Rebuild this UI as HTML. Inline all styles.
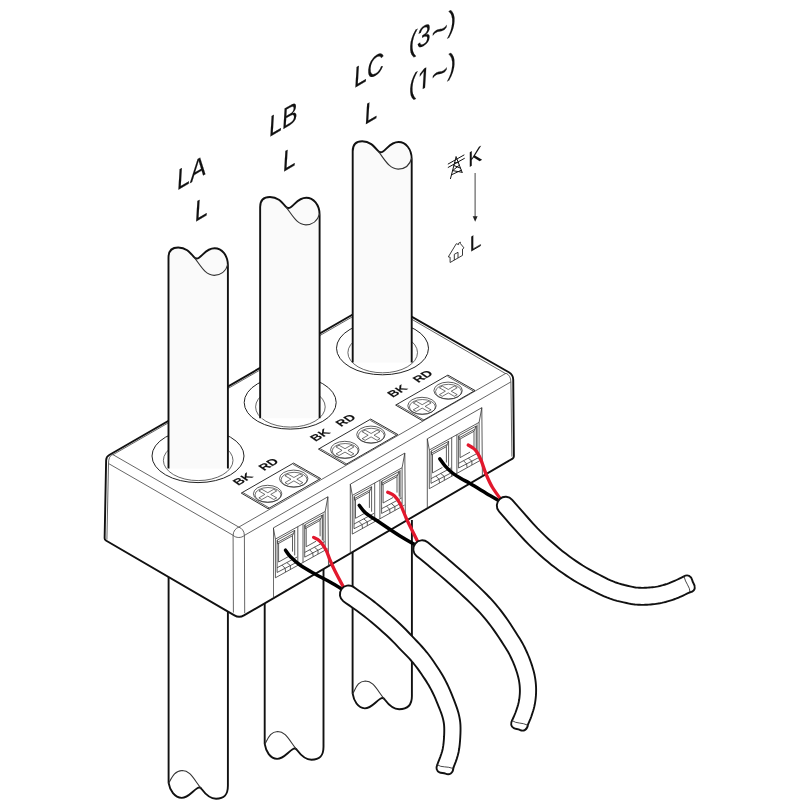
<!DOCTYPE html>
<html><head><meta charset="utf-8"><title>3-phase CT wiring</title>
<style>
html,body{margin:0;padding:0;background:#fff;}
body{width:800px;height:800px;overflow:hidden;font-family:"Liberation Sans",sans-serif;}
svg{display:block;}
svg text{font-family:"Liberation Sans",sans-serif;}
</style></head><body>
<svg width="800" height="800" viewBox="0 0 800 800">
<rect width="800" height="800" fill="#fff"/>
<g id="lower">
<path d="M168.6,560 L168.6,782.9 C169.8,790.4 174.7,797.5 181.7,797.9 C188.2,797.9 192.1,791.3 197.6,788 C199.1,787 200.5,787.3 201.8,789.3 C205.6,794.5 209.6,798.7 216.1,798.7 C223.6,798.7 227.9,795.8 227.9,785.8 L227.9,560" fill="#fff" stroke="#111" stroke-width="1.9" stroke-linejoin="round"/>
<path d="M168.6,783.4 C172.2,776.9 174.7,770.8 182.2,770.5 C190.2,770.5 193.6,779 201,788.3" fill="none" stroke="#333" stroke-width="1.1"/>
<path d="M264.7,560 L264.7,743.9 C265.9,751.4 270.1,758.5 277.1,758.9 C283.6,758.9 287.5,752.3 293,749 C294.5,748 295.9,748.3 297.2,750.3 C301,755.5 305,759.7 311.5,759.7 C319,759.7 323.5,756.8 323.5,746.8 L323.5,560" fill="#fff" stroke="#111" stroke-width="1.9" stroke-linejoin="round"/>
<path d="M264.7,744.4 C268.3,737.9 270.1,731.8 277.6,731.5 C285.6,731.5 289,740 296.4,749.3" fill="none" stroke="#333" stroke-width="1.1"/>
<path d="M352.6,520 L352.6,693.4 C353.8,700.9 357.8,708 364.8,708.4 C371.3,708.4 375.2,701.8 380.7,698.5 C382.2,697.5 383.6,697.8 384.9,699.8 C388.7,705 392.7,709.2 399.2,709.2 C406.7,709.2 411.9,706.3 411.9,696.3 L411.9,520" fill="#fff" stroke="#111" stroke-width="1.9" stroke-linejoin="round"/>
<path d="M352.6,693.9 C356.2,687.4 357.8,681.3 365.3,681 C373.3,681 376.7,689.5 384.1,698.8" fill="none" stroke="#333" stroke-width="1.1"/>
</g>
<path d="M106.13,460.2 Q106.2,456.7 109.23,454.95 L377.5,300.2 Q380.1,298.7 382.71,300.19 L508.86,372.22 Q513.2,374.7 513.24,379.7 L513.89,456.3 Q513.9,457.8 512.6,458.56 L243.95,615.43 Q239.2,618.2 234.45,615.43 L105.9,540.55 Q104.6,539.8 104.63,538.3 Z" fill="#fff" stroke="#111" stroke-width="1.9" stroke-linejoin="round"/>
<path d="M112.5,454.4 L238.8,527.1 L506,373.25 M108.5,463.5 L233.1,535.3 M244.4,535.4 L510.9,381.9 M108.5,463.5 L106.9,539.6 M510.9,381.9 L511.9,456.6 M233.1,535.3 L233.4,612.6 M244.4,535.4 L244.7,613.2 M233.1,535.3 C233.2,531 235.8,528.2 238.8,527.1 C241.8,528.2 244.3,531 244.4,535.4 M233.1,535.3 C236,538.2 241.5,538.2 244.4,535.4 M112.5,454.4 C110,455.5 108.5,458.5 108.5,463.5 M506,373.25 C509,374.5 510.9,377.5 510.9,381.9 M112.5,455.0 L380,300.9 L505.6,373.6" fill="none" stroke="#333" stroke-width="0.75"/>
<ellipse cx="198" cy="456" rx="46" ry="26.6" fill="#fff" stroke="#222" stroke-width="1"/>
<ellipse cx="198.2" cy="460.4" rx="34.8" ry="20.2" fill="#fff" stroke="#333" stroke-width="0.75"/>
<ellipse cx="290.2" cy="402.5" rx="46" ry="26.6" fill="#fff" stroke="#222" stroke-width="1"/>
<ellipse cx="290.4" cy="406.9" rx="34.8" ry="20.2" fill="#fff" stroke="#333" stroke-width="0.75"/>
<ellipse cx="382.5" cy="348.2" rx="46" ry="26.6" fill="#fff" stroke="#222" stroke-width="1"/>
<ellipse cx="382.7" cy="352.6" rx="34.8" ry="20.2" fill="#fff" stroke="#333" stroke-width="0.75"/>
<path d="M168.5,468.5 L168.5,257.5 C168.5,250.5 172.7,247.5 178.2,247.5 C185.7,247.5 189.5,251.9 193.8,256.9 C195.1,258.4 196.4,259.5 199,257.7 C203.5,254.7 206.6,248.2 214.6,248.2 C221.6,248.2 227.9,255.2 227.9,265.2 L227.9,468.5Z" fill="#fafafa" stroke="none"/>
<path d="M168.5,468.5 L168.5,257.5 C168.5,250.5 172.7,247.5 178.2,247.5 C185.7,247.5 189.5,251.9 193.8,256.9 C195.1,258.4 196.4,259.5 199,257.7 C203.5,254.7 206.6,248.2 214.6,248.2 C221.6,248.2 227.9,255.2 227.9,265.2 L227.9,468.5" fill="none" stroke="#111" stroke-width="1.9" stroke-linejoin="round"/>
<path d="M194.4,257.6 C200.5,265.4 205.2,275.3 214.2,275.3 C220.2,275.3 225.9,271.7 227.9,264.2" fill="none" stroke="#333" stroke-width="1.15"/>
<path d="M260.15,418.3 L260.15,207 C260.15,200 264.4,197 269.9,197 C277.4,197 281.2,201.4 285.5,206.4 C286.8,207.9 288.1,209 290.7,207.2 C295.2,204.2 298.3,197.7 306.3,197.7 C313.3,197.7 319.6,204.7 319.6,214.7 L319.6,418.3Z" fill="#fafafa" stroke="none"/>
<path d="M260.15,418.3 L260.15,207 C260.15,200 264.4,197 269.9,197 C277.4,197 281.2,201.4 285.5,206.4 C286.8,207.9 288.1,209 290.7,207.2 C295.2,204.2 298.3,197.7 306.3,197.7 C313.3,197.7 319.6,204.7 319.6,214.7 L319.6,418.3" fill="none" stroke="#111" stroke-width="1.9" stroke-linejoin="round"/>
<path d="M286.1,207.1 C292.2,214.9 296.9,224.8 305.9,224.8 C311.9,224.8 317.6,221.2 319.6,213.7" fill="none" stroke="#333" stroke-width="1.15"/>
<path d="M352.7,362.6 L352.7,151.3 C352.7,144.3 356.7,141.3 362.2,141.3 C369.7,141.3 373.5,145.7 377.8,150.7 C379.1,152.2 380.4,153.3 383,151.5 C387.5,148.5 390.6,142 398.6,142 C405.6,142 411.7,149 411.7,159 L411.7,362.6Z" fill="#fafafa" stroke="none"/>
<path d="M352.7,362.6 L352.7,151.3 C352.7,144.3 356.7,141.3 362.2,141.3 C369.7,141.3 373.5,145.7 377.8,150.7 C379.1,152.2 380.4,153.3 383,151.5 C387.5,148.5 390.6,142 398.6,142 C405.6,142 411.7,149 411.7,159 L411.7,362.6" fill="none" stroke="#111" stroke-width="1.9" stroke-linejoin="round"/>
<path d="M378.4,151.4 C384.5,159.2 389.2,169.1 398.2,169.1 C404.2,169.1 409.7,165.5 411.7,158" fill="none" stroke="#333" stroke-width="1.15"/>
<g opacity="0.999">
<polygon points="241.25,493.1 293.5,463.1 320.6,478.5 268.1,508.75" fill="#fff" stroke="#222" stroke-width="0.95"/>
<path d="M242.85,492.55 L269.4,508 M293.1,464.35 L319.3,479.25" fill="none" stroke="#333" stroke-width="0.8"/>
<ellipse cx="267.6" cy="493.8" rx="14.2" ry="8.5" fill="#fff" stroke="#333" stroke-width="0.8"/>
<ellipse cx="268" cy="494.9" rx="13" ry="7.4" fill="none" stroke="#333" stroke-width="0.7"/>
<polygon points="258.88,497.85 264.86,494.4 258.88,490.95 261.82,489.25 267.8,492.7 273.78,489.25 276.72,490.95 270.74,494.4 276.72,497.85 273.78,499.55 267.8,496.1 261.82,499.55" fill="none" stroke="#333" stroke-width="0.7"/>
<ellipse cx="293.7" cy="478.6" rx="14.2" ry="8.5" fill="#fff" stroke="#333" stroke-width="0.8"/>
<ellipse cx="294.1" cy="479.7" rx="13" ry="7.4" fill="none" stroke="#333" stroke-width="0.7"/>
<polygon points="284.98,482.65 290.96,479.2 284.98,475.75 287.92,474.05 293.9,477.5 299.88,474.05 302.82,475.75 296.84,479.2 302.82,482.65 299.88,484.35 293.9,480.9 287.92,484.35" fill="none" stroke="#333" stroke-width="0.7"/>
<text transform="matrix(0.935,-0.54,0.82,0.56,238.3,485.8)" font-size="11.6" font-weight="bold" fill="#111" stroke="#111" stroke-width="0.12">BK</text>
<text transform="matrix(0.935,-0.54,0.82,0.56,263.9,470.9)" font-size="11.6" font-weight="bold" fill="#111" stroke="#111" stroke-width="0.12">RD</text>
<polygon points="318.45,449.1 370.7,419.1 397.8,434.5 345.3,464.75" fill="#fff" stroke="#222" stroke-width="0.95"/>
<path d="M320.05,448.55 L346.6,464 M370.3,420.35 L396.5,435.25" fill="none" stroke="#333" stroke-width="0.8"/>
<ellipse cx="344.8" cy="449.8" rx="14.2" ry="8.5" fill="#fff" stroke="#333" stroke-width="0.8"/>
<ellipse cx="345.2" cy="450.9" rx="13" ry="7.4" fill="none" stroke="#333" stroke-width="0.7"/>
<polygon points="336.08,453.85 342.06,450.4 336.08,446.95 339.02,445.25 345,448.7 350.98,445.25 353.92,446.95 347.94,450.4 353.92,453.85 350.98,455.55 345,452.1 339.02,455.55" fill="none" stroke="#333" stroke-width="0.7"/>
<ellipse cx="370.9" cy="434.6" rx="14.2" ry="8.5" fill="#fff" stroke="#333" stroke-width="0.8"/>
<ellipse cx="371.3" cy="435.7" rx="13" ry="7.4" fill="none" stroke="#333" stroke-width="0.7"/>
<polygon points="362.18,438.65 368.16,435.2 362.18,431.75 365.12,430.05 371.1,433.5 377.08,430.05 380.02,431.75 374.04,435.2 380.02,438.65 377.08,440.35 371.1,436.9 365.12,440.35" fill="none" stroke="#333" stroke-width="0.7"/>
<text transform="matrix(0.935,-0.54,0.82,0.56,315.5,441.8)" font-size="11.6" font-weight="bold" fill="#111" stroke="#111" stroke-width="0.12">BK</text>
<text transform="matrix(0.935,-0.54,0.82,0.56,341.1,426.9)" font-size="11.6" font-weight="bold" fill="#111" stroke="#111" stroke-width="0.12">RD</text>
<polygon points="395.65,405.1 447.9,375.1 475,390.5 422.5,420.75" fill="#fff" stroke="#222" stroke-width="0.95"/>
<path d="M397.25,404.55 L423.8,420 M447.5,376.35 L473.7,391.25" fill="none" stroke="#333" stroke-width="0.8"/>
<ellipse cx="422" cy="405.8" rx="14.2" ry="8.5" fill="#fff" stroke="#333" stroke-width="0.8"/>
<ellipse cx="422.4" cy="406.9" rx="13" ry="7.4" fill="none" stroke="#333" stroke-width="0.7"/>
<polygon points="413.28,409.85 419.26,406.4 413.28,402.95 416.22,401.25 422.2,404.7 428.18,401.25 431.12,402.95 425.14,406.4 431.12,409.85 428.18,411.55 422.2,408.1 416.22,411.55" fill="none" stroke="#333" stroke-width="0.7"/>
<ellipse cx="448.1" cy="390.6" rx="14.2" ry="8.5" fill="#fff" stroke="#333" stroke-width="0.8"/>
<ellipse cx="448.5" cy="391.7" rx="13" ry="7.4" fill="none" stroke="#333" stroke-width="0.7"/>
<polygon points="439.38,394.65 445.36,391.2 439.38,387.75 442.32,386.05 448.3,389.5 454.28,386.05 457.22,387.75 451.24,391.2 457.22,394.65 454.28,396.35 448.3,392.9 442.32,396.35" fill="none" stroke="#333" stroke-width="0.7"/>
<text transform="matrix(0.935,-0.54,0.82,0.56,392.7,397.8)" font-size="11.6" font-weight="bold" fill="#111" stroke="#111" stroke-width="0.12">BK</text>
<text transform="matrix(0.935,-0.54,0.82,0.56,418.3,382.9)" font-size="11.6" font-weight="bold" fill="#111" stroke="#111" stroke-width="0.12">RD</text>
</g>
<path d="M273.4,598.19 L273.4,527.9 L327.9,496.78 L328.5,566.02 M273.4,527.9 L275.4,539.1 L275.4,577.8 M327.9,496.78 L325.2,511.46 L325.2,548.46 M275.4,539.1 L325.2,511.46 M275.4,577.8 L327.7,548.77 M297.8,526.67 L297.8,565.37 M277.1,572.46 L277.1,540.16 L294.7,530.39 M294.7,530.39 L294.7,555.39 M277.1,572.46 L297.4,561.89 M277.5,540.33 L277.7,543.92 L292.5,535.71 L294.7,530.39 M277.9,542.11 L293.1,533.68 M278.6,543.42 L278.6,562.02 L288.5,556.53 M292.5,535.71 L292.5,551.61 M277.1,567.76 L297.2,557 M282.1,565.18 L285.1,568.32 L285.6,572.04 M286.9,562.62 L290.4,565.57 L290.4,569.38 M303,523.78 L303,562.48 M304.7,557.14 L304.7,524.84 L322.3,515.07 M322.3,515.07 L322.3,540.07 M304.7,557.14 L325,546.57 M305.1,525.02 L305.3,528.61 L320.1,520.39 L322.3,515.07 M305.5,526.79 L320.7,518.36 M306.2,528.11 L306.2,546.71 L316.1,541.21 M320.1,520.39 L320.1,536.29 M304.7,552.44 L324.8,541.68 M309.7,549.86 L312.7,553 L313.2,556.72 M314.5,547.3 L318,550.26 L318,554.06 M323.2,513.57 L323.2,541.57" fill="none" stroke="#333" stroke-width="0.8" stroke-linejoin="round"/>
<path d="M350.3,553.28 L350.3,484.2 L404.8,453.08 L405.4,521.11 M350.3,484.2 L352.3,495.4 L352.3,534.1 M404.8,453.08 L402.1,467.76 L402.1,504.76 M352.3,495.4 L402.1,467.76 M352.3,534.1 L404.6,505.07 M374.7,482.97 L374.7,521.67 M354,528.76 L354,496.46 L371.6,486.69 M371.6,486.69 L371.6,511.69 M354,528.76 L374.3,518.19 M354.4,496.63 L354.6,500.22 L369.4,492.01 L371.6,486.69 M354.8,498.41 L370,489.98 M355.5,499.72 L355.5,518.32 L365.4,512.83 M369.4,492.01 L369.4,507.91 M354,524.06 L374.1,513.3 M359,521.48 L362,524.62 L362.5,528.34 M363.8,518.92 L367.3,521.88 L367.3,525.67 M379.9,480.08 L379.9,518.78 M381.6,513.44 L381.6,481.14 L399.2,471.37 M399.2,471.37 L399.2,496.37 M381.6,513.44 L401.9,502.87 M382,481.32 L382.2,484.91 L397,476.69 L399.2,471.37 M382.4,483.09 L397.6,474.66 M383.1,484.41 L383.1,503.01 L393,497.51 M397,476.69 L397,492.59 M381.6,508.74 L401.7,497.98 M386.6,506.16 L389.6,509.3 L390.1,513.02 M391.4,503.6 L394.9,506.56 L394.9,510.36 M400.1,469.87 L400.1,497.87" fill="none" stroke="#333" stroke-width="0.8" stroke-linejoin="round"/>
<path d="M427.3,508.32 L427.3,438.8 L481.8,407.68 L482.4,476.14 M427.3,438.8 L429.3,450 L429.3,488.7 M481.8,407.68 L479.1,422.36 L479.1,459.36 M429.3,450 L479.1,422.36 M429.3,488.7 L481.6,459.67 M451.7,437.57 L451.7,476.27 M431,483.36 L431,451.06 L448.6,441.29 M448.6,441.29 L448.6,466.29 M431,483.36 L451.3,472.79 M431.4,451.23 L431.6,454.82 L446.4,446.61 L448.6,441.29 M431.8,453.01 L447,444.58 M432.5,454.32 L432.5,472.92 L442.4,467.43 M446.4,446.61 L446.4,462.51 M431,478.66 L451.1,467.9 M436,476.08 L439,479.22 L439.5,482.94 M440.8,473.52 L444.3,476.48 L444.3,480.28 M456.9,434.68 L456.9,473.38 M458.6,468.04 L458.6,435.74 L476.2,425.97 M476.2,425.97 L476.2,450.97 M458.6,468.04 L478.9,457.47 M459,435.92 L459.2,439.51 L474,431.29 L476.2,425.97 M459.4,437.69 L474.6,429.26 M460.1,439.01 L460.1,457.61 L470,452.11 M474,431.29 L474,447.19 M458.6,463.34 L478.7,452.58 M463.6,460.76 L466.6,463.9 L467.1,467.62 M468.4,458.2 L471.9,461.16 L471.9,464.96 M477.1,424.47 L477.1,452.47" fill="none" stroke="#333" stroke-width="0.8" stroke-linejoin="round"/>
<path d="M285.5,550.2 C286.25,551.2 287.58,553.73 290,556.2 C292.42,558.67 295.83,562.03 300,565 C304.17,567.97 310,571.17 315,574 C320,576.83 325,579.17 330,582 C335,584.83 342.5,589.5 345,591" fill="none" stroke="#000" stroke-width="3.5" stroke-linecap="round"/>
<path d="M313.6,537.4 C314.67,538.05 317.93,539.2 320,541.3 C322.07,543.4 324.33,546.88 326,550 C327.67,553.12 328.5,556.5 330,560 C331.5,563.5 332.33,565.67 335,571 C337.67,576.33 344.17,588.5 346,592" fill="none" stroke="#e2182d" stroke-width="3.3" stroke-linecap="round"/>
<path d="M359.2,505.25 C360.25,506.51 362.45,510.17 365.5,512.8 C368.55,515.42 371.75,517.13 377.5,521 C383.25,524.87 393.08,531.67 400,536 C406.92,540.33 415.83,545.17 419,547" fill="none" stroke="#000" stroke-width="3.5" stroke-linecap="round"/>
<path d="M387.7,492.2 C388.83,492.83 392.45,494.12 394.5,496 C396.55,497.88 397.83,499.33 400,503.5 C402.17,507.67 404.08,513.75 407.5,521 C410.92,528.25 418.33,542.67 420.5,547" fill="none" stroke="#e2182d" stroke-width="3.3" stroke-linecap="round"/>
<path d="M439.75,458.8 C440.62,459.97 442.88,463.43 445,465.8 C447.12,468.17 449.83,470.87 452.5,473 C455.17,475.13 458,476.8 461,478.6 C464,480.4 465.67,480.98 470.5,483.8 C475.33,486.62 484.58,492.3 490,495.5 C495.42,498.7 500.83,501.75 503,503" fill="none" stroke="#000" stroke-width="3.5" stroke-linecap="round"/>
<path d="M468.2,445 C468.92,445.43 471.12,446.52 472.5,447.6 C473.88,448.68 475.08,449.43 476.5,451.5 C477.92,453.57 479.42,456.25 481,460 C482.58,463.75 484.08,469.42 486,474 C487.92,478.58 489.58,482.67 492.5,487.5 C495.42,492.33 501.67,500.42 503.5,503" fill="none" stroke="#e2182d" stroke-width="3.3" stroke-linecap="round"/>
<path d="M353.45,586.9 L355.72,588.49 L358.88,590.67 L362.67,593.31 L366.81,596.24 L371.02,599.32 L375.03,602.37 L378.91,605.49 L382.9,608.81 L386.9,612.21 L390.78,615.59 L394.43,618.82 L397.74,621.81 L400.64,624.5 L403.19,626.97 L405.5,629.28 L407.67,631.52 L409.8,633.76 L412.05,636.11 L414.44,638.62 L416.94,641.24 L419.49,643.95 L422.06,646.75 L424.58,649.61 L427.01,652.53 L429.32,655.5 L431.54,658.51 L433.64,661.51 L435.62,664.43 L437.46,667.23 L439.15,669.86 L440.7,672.3 L442.1,674.6 L443.4,676.82 L444.63,679.05 L445.84,681.33 L447.05,683.76 L448.3,686.38 L449.53,689.12 L450.72,691.89 L451.86,694.66 L452.94,697.37 L453.94,699.96 L454.89,702.42 L455.81,704.87 L456.72,707.36 L457.57,709.9 L458.35,712.5 L459,715.12 L459.52,717.6 L459.93,719.97 L460.24,722.38 L460.44,724.88 L460.53,727.52 L460.53,730.37 L460.45,733.55 L460.29,737.05 L460.05,740.75 L459.71,744.53 L459.25,748.27 L458.64,751.92 L457.76,755.55 L456.66,759.1 L455.61,762.09 L454.62,764.69 L453.84,766.68 L453.34,768 L437.26,764.8 L438.02,762.7 L439.05,760.05 L440.18,757.11 L441.29,754 L442.14,751.24 L442.76,748.68 L443.22,745.96 L443.6,742.82 L443.9,739.5 L444.11,736.18 L444.23,733.03 L444.27,730.23 L444.24,727.89 L444.14,725.91 L443.98,724.17 L443.74,722.5 L443.41,720.76 L443,718.88 L442.49,716.95 L441.87,714.99 L441.15,712.92 L440.32,710.74 L439.41,708.43 L438.46,706.04 L437.47,703.57 L436.42,701.04 L435.32,698.48 L434.2,695.96 L433.07,693.53 L431.95,691.24 L430.85,689.13 L429.79,687.18 L428.72,685.3 L427.58,683.4 L426.31,681.38 L424.85,679.14 L423.2,676.66 L421.42,674.03 L419.55,671.34 L417.61,668.64 L415.61,666 L413.59,663.47 L411.47,661 L409.19,658.47 L406.78,655.92 L404.31,653.36 L401.81,650.81 L399.35,648.29 L397.07,645.91 L394.98,643.71 L392.95,641.62 L390.85,639.51 L388.54,637.28 L385.86,634.79 L382.71,631.95 L379.17,628.82 L375.42,625.55 L371.57,622.28 L367.77,619.12 L364.17,616.23 L360.5,613.43 L356.54,610.53 L352.55,607.71 L348.84,605.13 L345.67,602.93 L343.35,601.3 A8.8,8.8 0 0 1 353.45,586.9 Z" fill="#fff" stroke="none"/>
<path d="M453.34,768 L453.84,766.68 L454.62,764.69 L455.61,762.09 L456.66,759.1 L457.76,755.55 L458.64,751.92 L459.25,748.27 L459.71,744.53 L460.05,740.75 L460.29,737.05 L460.45,733.55 L460.53,730.37 L460.53,727.52 L460.44,724.88 L460.24,722.38 L459.93,719.97 L459.52,717.6 L459,715.12 L458.35,712.5 L457.57,709.9 L456.72,707.36 L455.81,704.87 L454.89,702.42 L453.94,699.96 L452.94,697.37 L451.86,694.66 L450.72,691.89 L449.53,689.12 L448.3,686.38 L447.05,683.76 L445.84,681.33 L444.63,679.05 L443.4,676.82 L442.1,674.6 L440.7,672.3 L439.15,669.86 L437.46,667.23 L435.62,664.43 L433.64,661.51 L431.54,658.51 L429.32,655.5 L427.01,652.53 L424.58,649.61 L422.06,646.75 L419.49,643.95 L416.94,641.24 L414.44,638.62 L412.05,636.11 L409.8,633.76 L407.67,631.52 L405.5,629.28 L403.19,626.97 L400.64,624.5 L397.74,621.81 L394.43,618.82 L390.78,615.59 L386.9,612.21 L382.9,608.81 L378.91,605.49 L375.03,602.37 L371.02,599.32 L366.81,596.24 L362.67,593.31 L358.88,590.67 L355.72,588.49 L353.45,586.9 A8.8,8.8 0 0 0 343.35,601.3 L345.67,602.93 L348.84,605.13 L352.55,607.71 L356.54,610.53 L360.5,613.43 L364.17,616.23 L367.77,619.12 L371.57,622.28 L375.42,625.55 L379.17,628.82 L382.71,631.95 L385.86,634.79 L388.54,637.28 L390.85,639.51 L392.95,641.62 L394.98,643.71 L397.07,645.91 L399.35,648.29 L401.81,650.81 L404.31,653.36 L406.78,655.92 L409.19,658.47 L411.47,661 L413.59,663.47 L415.61,666 L417.61,668.64 L419.55,671.34 L421.42,674.03 L423.2,676.66 L424.85,679.14 L426.31,681.38 L427.58,683.4 L428.72,685.3 L429.79,687.18 L430.85,689.13 L431.95,691.24 L433.07,693.53 L434.2,695.96 L435.32,698.48 L436.42,701.04 L437.47,703.57 L438.46,706.04 L439.41,708.43 L440.32,710.74 L441.15,712.92 L441.87,714.99 L442.49,716.95 L443,718.88 L443.41,720.76 L443.74,722.5 L443.98,724.17 L444.14,725.91 L444.24,727.89 L444.27,730.23 L444.23,733.03 L444.11,736.18 L443.9,739.5 L443.6,742.82 L443.22,745.96 L442.76,748.68 L442.14,751.24 L441.29,754 L440.18,757.11 L439.05,760.05 L438.02,762.7 L437.26,764.8" fill="none" stroke="#111" stroke-width="1.9" stroke-linejoin="round"/>
<path d="M427.68,542.29 L429.56,543.84 L432.14,545.94 L435.22,548.46 L438.62,551.26 L442.15,554.19 L445.59,557.08 L448.99,559.98 L452.55,563.01 L456.24,566.18 L460,569.45 L463.79,572.81 L467.54,576.2 L471.34,579.71 L475.25,583.36 L479.2,587.1 L483.06,590.83 L486.71,594.49 L490.05,597.97 L492.98,601.17 L495.6,604.15 L498,607.02 L500.29,609.9 L502.56,612.88 L504.95,616.12 L507.55,619.79 L510.26,623.8 L512.96,627.91 L515.54,631.92 L517.88,635.64 L519.87,638.86 L521.48,641.54 L522.8,643.84 L523.89,645.88 L524.83,647.76 L525.69,649.57 L526.58,651.5 L527.52,653.59 L528.43,655.74 L529.31,657.9 L530.13,660.06 L530.91,662.22 L531.64,664.37 L532.32,666.51 L532.96,668.66 L533.57,670.84 L534.13,673.06 L534.63,675.31 L535.06,677.58 L535.4,679.83 L535.68,682.08 L535.89,684.32 L536.03,686.57 L536.1,688.82 L536.1,691.07 L536.04,693.34 L535.92,695.61 L535.72,697.88 L535.46,700.12 L535.14,702.34 L534.75,704.55 L534.27,706.78 L533.71,708.97 L533.1,711.06 L532.47,713.05 L531.85,714.92 L531.23,716.72 L530.53,718.6 L529.77,720.48 L529.15,721.93 L528.61,723.17 L528.19,724.1 L527.94,724.66 L512.06,720.54 L512.6,719.29 L513.29,717.75 L514.05,716.05 L514.82,714.25 L515.43,712.74 L515.97,711.28 L516.51,709.72 L517.07,708.05 L517.6,706.37 L518.08,704.69 L518.5,703.06 L518.85,701.45 L519.14,699.78 L519.4,698.03 L519.6,696.25 L519.76,694.46 L519.86,692.68 L519.9,690.93 L519.87,689.18 L519.79,687.43 L519.66,685.68 L519.47,683.92 L519.23,682.17 L518.94,680.42 L518.59,678.69 L518.18,676.94 L517.7,675.16 L517.17,673.34 L516.59,671.49 L515.96,669.63 L515.31,667.77 L514.62,665.92 L513.88,664.06 L513.11,662.21 L512.29,660.37 L511.42,658.5 L510.58,656.74 L509.81,655.17 L509.05,653.69 L508.16,652.08 L507.03,650.16 L505.53,647.74 L503.59,644.69 L501.28,641.12 L498.74,637.28 L496.1,633.38 L493.5,629.65 L491.05,626.28 L488.81,623.31 L486.69,620.61 L484.62,618.08 L482.46,615.56 L480.08,612.92 L477.35,610.03 L474.22,606.83 L470.74,603.4 L467.03,599.81 L463.2,596.19 L459.37,592.61 L455.66,589.2 L452.04,585.92 L448.39,582.68 L444.73,579.49 L441.11,576.39 L437.58,573.38 L434.21,570.52 L430.86,567.69 L427.41,564.83 L424.06,562.07 L421,559.57 L418.42,557.46 L416.52,555.91 A8.8,8.8 0 0 1 427.68,542.29 Z" fill="#fff" stroke="none"/>
<path d="M527.94,724.66 L528.19,724.1 L528.61,723.17 L529.15,721.93 L529.77,720.48 L530.53,718.6 L531.23,716.72 L531.85,714.92 L532.47,713.05 L533.1,711.06 L533.71,708.97 L534.27,706.78 L534.75,704.55 L535.14,702.34 L535.46,700.12 L535.72,697.88 L535.92,695.61 L536.04,693.34 L536.1,691.07 L536.1,688.82 L536.03,686.57 L535.89,684.32 L535.68,682.08 L535.4,679.83 L535.06,677.58 L534.63,675.31 L534.13,673.06 L533.57,670.84 L532.96,668.66 L532.32,666.51 L531.64,664.37 L530.91,662.22 L530.13,660.06 L529.31,657.9 L528.43,655.74 L527.52,653.59 L526.58,651.5 L525.69,649.57 L524.83,647.76 L523.89,645.88 L522.8,643.84 L521.48,641.54 L519.87,638.86 L517.88,635.64 L515.54,631.92 L512.96,627.91 L510.26,623.8 L507.55,619.79 L504.95,616.12 L502.56,612.88 L500.29,609.9 L498,607.02 L495.6,604.15 L492.98,601.17 L490.05,597.97 L486.71,594.49 L483.06,590.83 L479.2,587.1 L475.25,583.36 L471.34,579.71 L467.54,576.2 L463.79,572.81 L460,569.45 L456.24,566.18 L452.55,563.01 L448.99,559.98 L445.59,557.08 L442.15,554.19 L438.62,551.26 L435.22,548.46 L432.14,545.94 L429.56,543.84 L427.68,542.29 A8.8,8.8 0 0 0 416.52,555.91 L418.42,557.46 L421,559.57 L424.06,562.07 L427.41,564.83 L430.86,567.69 L434.21,570.52 L437.58,573.38 L441.11,576.39 L444.73,579.49 L448.39,582.68 L452.04,585.92 L455.66,589.2 L459.37,592.61 L463.2,596.19 L467.03,599.81 L470.74,603.4 L474.22,606.83 L477.35,610.03 L480.08,612.92 L482.46,615.56 L484.62,618.08 L486.69,620.61 L488.81,623.31 L491.05,626.28 L493.5,629.65 L496.1,633.38 L498.74,637.28 L501.28,641.12 L503.59,644.69 L505.53,647.74 L507.03,650.16 L508.16,652.08 L509.05,653.69 L509.81,655.17 L510.58,656.74 L511.42,658.5 L512.29,660.37 L513.11,662.21 L513.88,664.06 L514.62,665.92 L515.31,667.77 L515.96,669.63 L516.59,671.49 L517.17,673.34 L517.7,675.16 L518.18,676.94 L518.59,678.69 L518.94,680.42 L519.23,682.17 L519.47,683.92 L519.66,685.68 L519.79,687.43 L519.87,689.18 L519.9,690.93 L519.86,692.68 L519.76,694.46 L519.6,696.25 L519.4,698.03 L519.14,699.78 L518.85,701.45 L518.5,703.06 L518.08,704.69 L517.6,706.37 L517.07,708.05 L516.51,709.72 L515.97,711.28 L515.43,712.74 L514.82,714.25 L514.05,716.05 L513.29,717.75 L512.6,719.29 L512.06,720.54" fill="none" stroke="#111" stroke-width="1.9" stroke-linejoin="round"/>
<path d="M512.22,499.8 L515.06,503.05 L519.01,507.6 L523.65,512.93 L528.56,518.5 L533.34,523.81 L537.56,528.32 L541.29,532.12 L544.89,535.65 L548.39,538.95 L551.82,542.08 L555.26,545.09 L558.72,548.03 L562.22,550.88 L565.7,553.6 L569.19,556.22 L572.66,558.73 L576.1,561.12 L579.47,563.38 L582.76,565.49 L586.02,567.46 L589.27,569.33 L592.5,571.12 L595.72,572.84 L598.89,574.52 L601.98,576.12 L604.94,577.63 L607.79,579.04 L610.56,580.32 L613.26,581.48 L615.9,582.51 L618.62,583.43 L621.52,584.27 L624.49,585.04 L627.39,585.72 L630.13,586.33 L632.52,586.84 L634.37,587.22 L635.72,587.45 L636.79,587.59 L637.78,587.67 L638.92,587.74 L640.29,587.8 L641.74,587.85 L643.18,587.85 L644.67,587.82 L646.19,587.76 L647.74,587.67 L649.28,587.56 L650.82,587.42 L652.35,587.26 L653.86,587.08 L655.34,586.87 L656.81,586.62 L658.26,586.33 L659.72,586 L661.25,585.61 L662.81,585.19 L664.37,584.73 L665.88,584.25 L667.31,583.79 L668.58,583.35 L669.75,582.91 L670.89,582.46 L672.04,581.98 L673.27,581.45 L674.55,580.89 L675.97,580.24 L677.57,579.49 L679.32,578.65 L680.98,577.83 L682.43,577.13 L683.51,576.6 L690.09,592.2 L689.24,592.61 L688,593.22 L686.48,593.95 L684.83,594.75 L683.07,595.58 L681.45,596.31 L680.02,596.94 L678.65,597.53 L677.26,598.11 L675.82,598.69 L674.3,599.25 L672.69,599.81 L671.01,600.36 L669.26,600.9 L667.44,601.44 L665.56,601.96 L663.66,602.44 L661.74,602.87 L659.86,603.24 L657.99,603.56 L656.14,603.83 L654.32,604.07 L652.51,604.27 L650.72,604.44 L648.91,604.59 L647.08,604.7 L645.23,604.79 L643.37,604.84 L641.51,604.84 L639.71,604.8 L638.12,604.74 L636.61,604.66 L634.99,604.53 L633.23,604.31 L631.27,603.99 L629.08,603.56 L626.54,603.03 L623.64,602.41 L620.43,601.67 L617.03,600.82 L613.54,599.83 L610.1,598.69 L606.79,597.43 L603.58,596.07 L600.41,594.63 L597.26,593.11 L594.1,591.52 L590.91,589.88 L587.63,588.18 L584.25,586.4 L580.77,584.51 L577.21,582.49 L573.59,580.33 L569.93,578.02 L566.27,575.6 L562.57,573.06 L558.82,570.39 L555.04,567.59 L551.25,564.64 L547.48,561.57 L543.76,558.42 L540.1,555.21 L536.41,551.86 L532.68,548.32 L528.84,544.56 L524.84,540.48 L520.36,535.7 L515.42,530.21 L510.41,524.52 L505.73,519.15 L501.79,514.61 L498.98,511.4 A8.8,8.8 0 0 1 512.22,499.8 Z" fill="#fff" stroke="none"/>
<path d="M683.51,576.6 L682.43,577.13 L680.98,577.83 L679.32,578.65 L677.57,579.49 L675.97,580.24 L674.55,580.89 L673.27,581.45 L672.04,581.98 L670.89,582.46 L669.75,582.91 L668.58,583.35 L667.31,583.79 L665.88,584.25 L664.37,584.73 L662.81,585.19 L661.25,585.61 L659.72,586 L658.26,586.33 L656.81,586.62 L655.34,586.87 L653.86,587.08 L652.35,587.26 L650.82,587.42 L649.28,587.56 L647.74,587.67 L646.19,587.76 L644.67,587.82 L643.18,587.85 L641.74,587.85 L640.29,587.8 L638.92,587.74 L637.78,587.67 L636.79,587.59 L635.72,587.45 L634.37,587.22 L632.52,586.84 L630.13,586.33 L627.39,585.72 L624.49,585.04 L621.52,584.27 L618.62,583.43 L615.9,582.51 L613.26,581.48 L610.56,580.32 L607.79,579.04 L604.94,577.63 L601.98,576.12 L598.89,574.52 L595.72,572.84 L592.5,571.12 L589.27,569.33 L586.02,567.46 L582.76,565.49 L579.47,563.38 L576.1,561.12 L572.66,558.73 L569.19,556.22 L565.7,553.6 L562.22,550.88 L558.72,548.03 L555.26,545.09 L551.82,542.08 L548.39,538.95 L544.89,535.65 L541.29,532.12 L537.56,528.32 L533.34,523.81 L528.56,518.5 L523.65,512.93 L519.01,507.6 L515.06,503.05 L512.22,499.8 A8.8,8.8 0 0 0 498.98,511.4 L501.79,514.61 L505.73,519.15 L510.41,524.52 L515.42,530.21 L520.36,535.7 L524.84,540.48 L528.84,544.56 L532.68,548.32 L536.41,551.86 L540.1,555.21 L543.76,558.42 L547.48,561.57 L551.25,564.64 L555.04,567.59 L558.82,570.39 L562.57,573.06 L566.27,575.6 L569.93,578.02 L573.59,580.33 L577.21,582.49 L580.77,584.51 L584.25,586.4 L587.63,588.18 L590.91,589.88 L594.1,591.52 L597.26,593.11 L600.41,594.63 L603.58,596.07 L606.79,597.43 L610.1,598.69 L613.54,599.83 L617.03,600.82 L620.43,601.67 L623.64,602.41 L626.54,603.03 L629.08,603.56 L631.27,603.99 L633.23,604.31 L634.99,604.53 L636.61,604.66 L638.12,604.74 L639.71,604.8 L641.51,604.84 L643.37,604.84 L645.23,604.79 L647.08,604.7 L648.91,604.59 L650.72,604.44 L652.51,604.27 L654.32,604.07 L656.14,603.83 L657.99,603.56 L659.86,603.24 L661.74,602.87 L663.66,602.44 L665.56,601.96 L667.44,601.44 L669.26,600.9 L671.01,600.36 L672.69,599.81 L674.3,599.25 L675.82,598.69 L677.26,598.11 L678.65,597.53 L680.02,596.94 L681.45,596.31 L683.07,595.58 L684.83,594.75 L686.48,593.95 L688,593.22 L689.24,592.61 L690.09,592.2" fill="none" stroke="#111" stroke-width="1.9" stroke-linejoin="round"/>
<path d="M437.26,764.8 C435.85,767.64 436.36,771 439.44,772.3 C441.59,773.29 443.39,772.61 445.53,773.66 C449.36,775.39 453.15,773.17 453.34,768" fill="#fff" stroke="#111" stroke-width="1.9" stroke-linejoin="round" stroke-linecap="round"/>
<path d="M437.26,764.8 C441.66,767.89 447.07,765.92 453.24,768.54" fill="none" stroke="#333" stroke-width="0.9"/>
<path d="M512.06,720.54 C510.5,723.29 510.81,726.67 513.81,728.16 C515.89,729.26 517.74,728.69 519.81,729.86 C523.54,731.81 527.45,729.81 527.94,724.66" fill="#fff" stroke="#111" stroke-width="1.9" stroke-linejoin="round" stroke-linecap="round"/>
<path d="M512.06,720.54 C516.28,723.88 521.79,722.22 527.8,725.19" fill="none" stroke="#333" stroke-width="0.9"/>
<path d="M690.09,592.2 C693.07,591.86 695.38,589.6 694.66,586.23 C694.21,583.85 692.67,582.66 692.28,580.26 C691.46,576.01 687.61,573.96 683.51,576.6" fill="#fff" stroke="#111" stroke-width="1.9" stroke-linejoin="round" stroke-linecap="round"/>
<path d="M690.09,592.2 C690,586.72 685.43,583.14 683.98,576.4" fill="none" stroke="#333" stroke-width="0.9"/>
<g opacity="0.999">
<text transform="matrix(0.797,-0.463,-0.06,1,176.6,190.8)" font-size="29.5" fill="#111" stroke="#111" stroke-width="0.18">LA</text>
<text transform="matrix(0.797,-0.463,-0.06,1,194.2,222.6)" font-size="29.5" fill="#111" stroke="#111" stroke-width="0.18">L</text>
<text transform="matrix(0.797,-0.463,-0.06,1,268.5,137.5)" font-size="29.5" fill="#111" stroke="#111" stroke-width="0.18">LB</text>
<text transform="matrix(0.797,-0.463,-0.06,1,282.3,172.4)" font-size="29.5" fill="#111" stroke="#111" stroke-width="0.18">L</text>
<text transform="matrix(0.797,-0.463,-0.06,1,353.5,88.4)" font-size="29.5" fill="#111" stroke="#111" stroke-width="0.18">LC</text>
<text transform="matrix(0.797,-0.463,-0.06,1,363.9,125.2)" font-size="29.5" fill="#111" stroke="#111" stroke-width="0.18">L</text>
<g transform="matrix(0.84,-0.465,-0.06,1,408.3,54.4)" fill="#111" stroke="#111" stroke-width="0.18" font-size="29.5">
<text x="0" y="0">(3</text>
<text x="27.2" y="4.0" font-size="33">~</text>
<text x="46.4" y="0">)</text>
</g>
<g transform="matrix(0.84,-0.465,-0.06,1,408.3,97)" fill="#111" stroke="#111" stroke-width="0.18" font-size="29.5">
<text x="0" y="0">(</text>
<polygon points="17.24,0 17.24,-17.82 12.66,-14.55 12.66,-17 17.45,-20.3 19.85,-20.3 19.85,0"/>
<text x="27.2" y="4.0" font-size="33">~</text>
<text x="46.4" y="0">)</text>
</g>
<text transform="matrix(1,-0.58,0,1,468,168)" font-size="21.6" fill="#111">K</text>
<text transform="matrix(1,-0.58,0,1,469.5,252.5)" font-size="21.6" fill="#111">L</text>
</g>
<path d="M475.1,173 L475.1,217" stroke="#444" stroke-width="1" fill="none"/>
<path d="M472.7,216.2 L477.6,216.2 L475.15,221.8 Z" fill="#222"/>
<path d="M456.1,156.9 L450.5,178.6 M456.1,156.9 L462.1,172.3 M448.2,164 L464,155 M448.2,167.4 L464.4,158.4 M453.9,165.5 L460.6,168.2 M459.3,165.2 L452.6,170.6 M452.6,170.6 L462.1,172.3 M461.3,170.2 L451.5,174.8 M454.6,162.8 L458.4,162.6" fill="none" stroke="#111" stroke-width="1" stroke-linecap="round"/>
<path d="M450.1,262.5 L462.5,255.4 L462.5,249 L464,247.9 L460.4,243.6 L460.4,242.2 L458.6,243.2 L458.6,244.6 L456.3,243.7 L448.3,256.9 L450.1,257.2 Z M454.3,260 L454.3,254.3 L458,252.3 L458,257.8" fill="none" stroke="#222" stroke-width="0.9" stroke-linejoin="round"/>
</svg>
</body></html>
